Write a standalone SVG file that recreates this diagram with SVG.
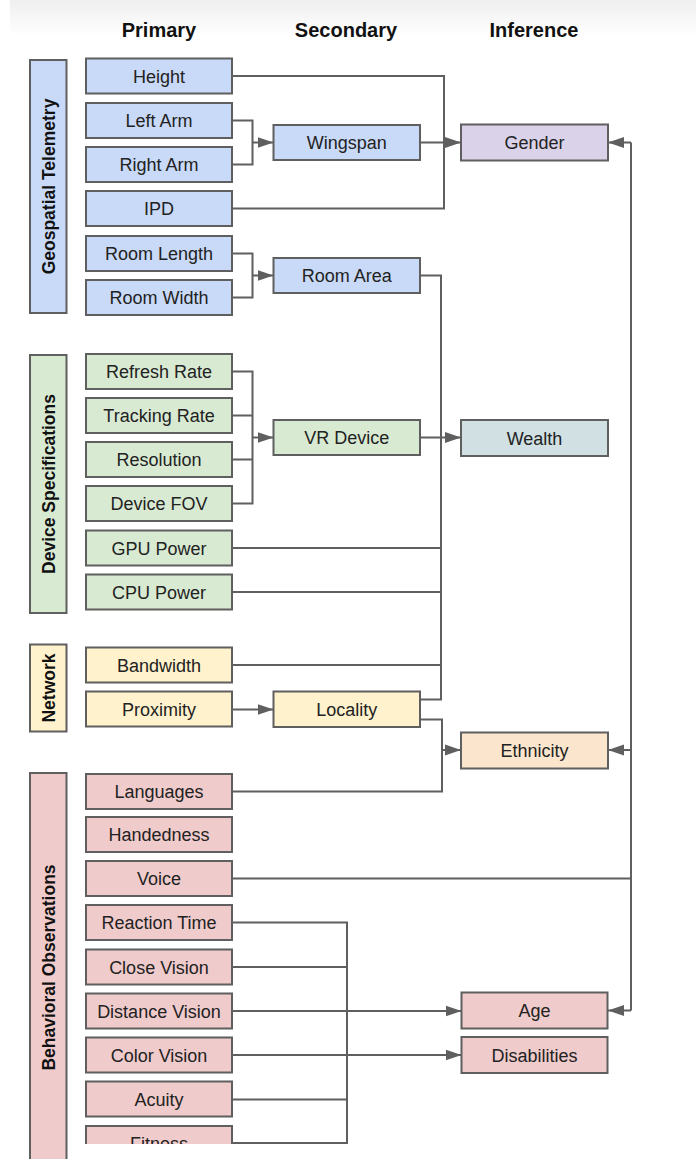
<svg xmlns="http://www.w3.org/2000/svg" width="696" height="1159" viewBox="0 0 696 1159">
<style>
.bx{stroke:#5f5f5f;stroke-width:2}
.blue{fill:#c9daf8}.green{fill:#d9ead3}.yellow{fill:#fff2cc}.pink{fill:#f0cbcb}.purple{fill:#d9d2e9}.teal{fill:#d0e0e3}.peach{fill:#fce5cd}
.t{font-family:"Liberation Sans",Arial,sans-serif;font-size:18px;fill:#222;text-anchor:middle}
.h{font-family:"Liberation Sans",Arial,sans-serif;font-size:20px;font-weight:bold;fill:#111;text-anchor:middle}
.c{font-family:"Liberation Sans",Arial,sans-serif;font-size:17.5px;font-weight:bold;fill:#111;text-anchor:middle}
.ln{fill:none;stroke:#5f5f5f;stroke-width:2}
.ar{fill:none;stroke:#5f5f5f;stroke-width:2;marker-end:url(#ah)}
</style>
<defs>
<linearGradient id="topg" x1="0" y1="0" x2="0" y2="1">
<stop offset="0" stop-color="#efefef"/>
<stop offset="1" stop-color="#ffffff"/>
</linearGradient>
<marker id="ah" markerUnits="userSpaceOnUse" markerWidth="16" markerHeight="12" refX="16" refY="6" orient="auto">
<path d="M0,0.5 L16,6 L0,11.5 z" fill="#5f5f5f"/>
</marker>
<clipPath id="clipb"><rect x="0" y="0" width="696" height="1144"/></clipPath>
</defs>
<rect width="696" height="1159" fill="#ffffff"/>
<rect x="10" y="0" width="686" height="36" fill="url(#topg)"/>

<g id="headers">
<text class="h" x="159" y="37">Primary</text>
<text class="h" x="346" y="37">Secondary</text>
<text class="h" x="534" y="37">Inference</text>
</g>

<g id="cat-geospatial"><rect class="bx blue" x="30" y="60" width="36.5" height="253"/><text class="c" transform="translate(54.5,186.5) rotate(-90)">Geospatial Telemetry</text></g>
<g id="cat-device"><rect class="bx green" x="30" y="355" width="36.5" height="258"/><text class="c" transform="translate(54.5,484) rotate(-90)">Device Specifications</text></g>
<g id="cat-network"><rect class="bx yellow" x="30" y="644.5" width="36.5" height="87"/><text class="c" transform="translate(54.5,688) rotate(-90)">Network</text></g>
<g id="cat-behavioral"><rect class="bx pink" x="30" y="773" width="36.5" height="392"/><text class="c" transform="translate(54.5,967.5) rotate(-90)">Behavioral Observations</text></g>

<g id="connectors">
<path class="ln" d="M232,76 H444 V208.5 H232"/>
<path class="ar" d="M420,142.5 H461"/>
<path class="ln" d="M232,120.5 H252.5 V164.5 H232"/>
<path class="ar" d="M252.5,142.5 H273.5"/>
<path class="ln" d="M232,253.5 H252.5 V297.5 H232"/>
<path class="ar" d="M252.5,275.5 H273.5"/>
<path class="ln" d="M232,371.5 H252.5 V503.5 H232 M232,415.5 H252.5 M232,459.5 H252.5"/>
<path class="ar" d="M252.5,437.5 H273.5"/>
<path class="ln" d="M420,275.5 H441 V699.5 H420 M232,548 H441 M232,592 H441 M232,665 H441"/>
<path class="ar" d="M420,437.5 H461"/>
<path class="ar" d="M232,709.5 H273.5"/>
<path class="ln" d="M420,719.5 H442 V791.5 H232"/>
<path class="ar" d="M442,750 H461"/>
<path class="ln" d="M232,878.5 H631 M631,142.5 V1010.5"/>
<path class="ar" d="M631,142.5 H608"/>
<path class="ar" d="M631,750 H608"/>
<path class="ar" d="M631,1010.5 H608"/>
<path class="ln" d="M232,922.5 H347 V1143 H232 M232,967 H347 M232,1099.5 H347"/>
<path class="ar" d="M232,1011 H461.5"/>
<path class="ar" d="M232,1055 H461.5"/>
</g>

<g id="n-height"><rect class="bx blue" x="86" y="58.5" width="146" height="35"/><text class="t" x="159" y="82.5">Height</text></g>
<g id="n-leftarm"><rect class="bx blue" x="86" y="103" width="146" height="35"/><text class="t" x="159" y="127">Left Arm</text></g>
<g id="n-rightarm"><rect class="bx blue" x="86" y="147" width="146" height="35"/><text class="t" x="159" y="171">Right Arm</text></g>
<g id="n-ipd"><rect class="bx blue" x="86" y="191" width="146" height="35"/><text class="t" x="159" y="215">IPD</text></g>
<g id="n-roomlength"><rect class="bx blue" x="86" y="236" width="146" height="35"/><text class="t" x="159" y="260">Room Length</text></g>
<g id="n-roomwidth"><rect class="bx blue" x="86" y="280" width="146" height="35"/><text class="t" x="159" y="304">Room Width</text></g>

<g id="n-refresh"><rect class="bx green" x="86" y="354" width="146" height="35"/><text class="t" x="159" y="378">Refresh Rate</text></g>
<g id="n-tracking"><rect class="bx green" x="86" y="398" width="146" height="35"/><text class="t" x="159" y="422">Tracking Rate</text></g>
<g id="n-resolution"><rect class="bx green" x="86" y="442" width="146" height="35"/><text class="t" x="159" y="466">Resolution</text></g>
<g id="n-fov"><rect class="bx green" x="86" y="486" width="146" height="35"/><text class="t" x="159" y="510">Device FOV</text></g>
<g id="n-gpu"><rect class="bx green" x="86" y="530.5" width="146" height="35"/><text class="t" x="159" y="554.5">GPU Power</text></g>
<g id="n-cpu"><rect class="bx green" x="86" y="574.5" width="146" height="35"/><text class="t" x="159" y="598.5">CPU Power</text></g>

<g id="n-bandwidth"><rect class="bx yellow" x="86" y="647.5" width="146" height="35"/><text class="t" x="159" y="671.5">Bandwidth</text></g>
<g id="n-proximity"><rect class="bx yellow" x="86" y="691.5" width="146" height="35"/><text class="t" x="159" y="715.5">Proximity</text></g>

<g id="n-languages"><rect class="bx pink" x="86" y="774" width="146" height="35"/><text class="t" x="159" y="798">Languages</text></g>
<g id="n-handedness"><rect class="bx pink" x="86" y="817" width="146" height="35"/><text class="t" x="159" y="841">Handedness</text></g>
<g id="n-voice"><rect class="bx pink" x="86" y="861" width="146" height="35"/><text class="t" x="159" y="885">Voice</text></g>
<g id="n-reaction"><rect class="bx pink" x="86" y="905" width="146" height="35"/><text class="t" x="159" y="929">Reaction Time</text></g>
<g id="n-close"><rect class="bx pink" x="86" y="949.5" width="146" height="35"/><text class="t" x="159" y="973.5">Close Vision</text></g>
<g id="n-distance"><rect class="bx pink" x="86" y="993.5" width="146" height="35"/><text class="t" x="159" y="1017.5">Distance Vision</text></g>
<g id="n-color"><rect class="bx pink" x="86" y="1037.5" width="146" height="35"/><text class="t" x="159" y="1061.5">Color Vision</text></g>
<g id="n-acuity"><rect class="bx pink" x="86" y="1081.5" width="146" height="35"/><text class="t" x="159" y="1105.5">Acuity</text></g>
<g id="n-fitness" clip-path="url(#clipb)"><rect class="bx pink" x="86" y="1126" width="146" height="35"/><text class="t" x="159" y="1150">Fitness</text></g>

<g id="n-wingspan"><rect class="bx blue" x="273.5" y="125" width="146.5" height="35"/><text class="t" x="346.75" y="149">Wingspan</text></g>
<g id="n-roomarea"><rect class="bx blue" x="273.5" y="258" width="146.5" height="35"/><text class="t" x="346.75" y="282">Room Area</text></g>
<g id="n-vrdevice"><rect class="bx green" x="273.5" y="420" width="146.5" height="35"/><text class="t" x="346.75" y="444">VR Device</text></g>
<g id="n-locality"><rect class="bx yellow" x="273.5" y="691.5" width="146.5" height="35.5"/><text class="t" x="346.75" y="715.5">Locality</text></g>

<g id="n-gender"><rect class="bx purple" x="461" y="124.5" width="147" height="36"/><text class="t" x="534.5" y="149">Gender</text></g>
<g id="n-wealth"><rect class="bx teal" x="461" y="420" width="147" height="36"/><text class="t" x="534.5" y="444.5">Wealth</text></g>
<g id="n-ethnicity"><rect class="bx peach" x="461" y="732.5" width="147" height="36"/><text class="t" x="534.5" y="757">Ethnicity</text></g>
<g id="n-age"><rect class="bx pink" x="461.5" y="992.5" width="146" height="36"/><text class="t" x="534.5" y="1017">Age</text></g>
<g id="n-disabilities"><rect class="bx pink" x="461.5" y="1037" width="146" height="36"/><text class="t" x="534.5" y="1061.5">Disabilities</text></g>
</svg>
